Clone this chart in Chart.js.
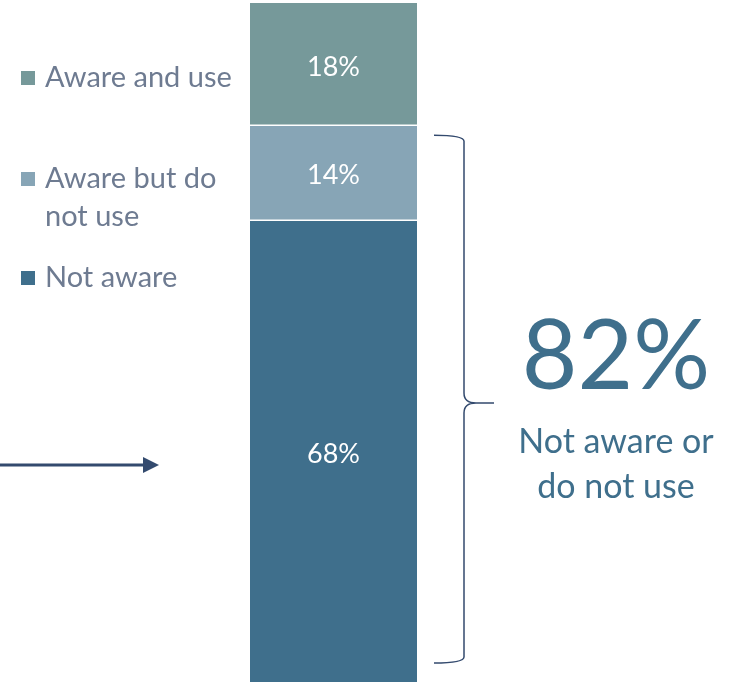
<!DOCTYPE html>
<html lang="en">
<head>
  <meta charset="UTF-8" />
  <title>Awareness and use</title>
  <script src="https://cdn.jsdelivr.net/npm/chart.js"></script>
  <style>
    * { margin: 0; padding: 0; box-sizing: border-box; }
    body { background: #fff; width: 730px; height: 682px; overflow: hidden; }
    canvas { display: block; }
  </style>
</head>
<body>
  <canvas id="chart" width="730" height="682"></canvas>

  <script>
    // data (stacked bottom to top)
    const categories = ["All respondents"];
    const seriesLabels = ["Not aware", "Aware but do not use", "Aware and use"];
    const seriesValues = [[68], [14], [18]];
    const seriesColors = ["#3f6f8c", "#87a5b6", "#76999a"];
    // legend order as shown, top to bottom
    const legendLines = [["Aware and use"], ["Aware but do", "not use"], ["Not aware"]];
    const calloutLines = ["Not aware or", "do not use"];

    const FONT = "Lato, 'Open Sans', sans-serif";
    const INK = "#334a6e";

    const notUse = seriesValues[0][0] + seriesValues[1][0];

    const overlay = {
      id: 'overlay',
      afterDatasetsDraw(chart) {
        const ctx = chart.ctx;
        const y = chart.scales.y;

        // value labels inside segments
        ctx.save();
        ctx.fillStyle = '#ffffff';
        ctx.font = '27px ' + FONT;
        ctx.textAlign = 'center';
        ctx.textBaseline = 'middle';
        chart.data.datasets.forEach((ds, i) => {
          const bar = chart.getDatasetMeta(i).data[0];
          const cy = (bar.y + bar.base) / 2;
          ctx.fillText(ds.data[0] + '%', bar.x, cy + 3);
        });
        ctx.restore();

        // legend (top to bottom = reversed stack order)
        ctx.save();
        ctx.font = '29px ' + FONT;
        ctx.textBaseline = 'middle';
        const legendY = [78, 179, 278];
        const order = [2, 1, 0];
        order.forEach((di, k) => {
          ctx.fillStyle = seriesColors[di];
          ctx.fillRect(21, legendY[k] - 7, 14, 14);
          ctx.fillStyle = '#6e7b91';
          legendLines[k].forEach((line, j) => {
            ctx.fillText(line, 45, legendY[k] + j * 38);
          });
        });
        ctx.restore();

        // arrow pointing at the bar
        ctx.save();
        ctx.strokeStyle = INK;
        ctx.fillStyle = INK;
        ctx.lineWidth = 3;
        const ay = 465;
        ctx.beginPath();
        ctx.moveTo(0, ay);
        ctx.lineTo(146, ay);
        ctx.stroke();
        ctx.beginPath();
        ctx.moveTo(143, ay - 8);
        ctx.lineTo(159, ay);
        ctx.lineTo(143, ay + 8);
        ctx.closePath();
        ctx.fill();
        ctx.restore();

        // curly brace around the "not aware or do not use" share
        const top = y.getPixelForValue(notUse) + 10;
        const bot = 663;
        const mid = (top + bot) / 2 + 4;
        const x0 = 434, x1 = 464, xt = 494;
        ctx.save();
        ctx.strokeStyle = INK;
        ctx.lineWidth = 1.5;
        ctx.beginPath();
        ctx.moveTo(x0, top);
        ctx.quadraticCurveTo(x1, top, x1, top + 6);
        ctx.lineTo(x1, mid - 10);
        ctx.quadraticCurveTo(x1, mid, xt - 18, mid);
        ctx.lineTo(xt, mid);
        ctx.moveTo(xt - 18, mid);
        ctx.quadraticCurveTo(x1, mid, x1, mid + 10);
        ctx.lineTo(x1, bot - 6);
        ctx.quadraticCurveTo(x1, bot, x0, bot);
        ctx.stroke();
        ctx.restore();

        // callout
        ctx.save();
        ctx.fillStyle = seriesColors[0];
        ctx.textAlign = 'center';
        ctx.textBaseline = 'alphabetic';
        ctx.font = '96px ' + FONT;
        ctx.fillText(notUse + '%', 616, 389);
        ctx.font = '34px ' + FONT;
        ctx.fillText(calloutLines[0], 616, 453);
        ctx.fillText(calloutLines[1], 616, 498);
        ctx.restore();
      }
    };

    new Chart(document.getElementById('chart'), {
      type: 'bar',
      data: {
        labels: categories,
        datasets: seriesLabels.map((label, i) => ({
          label: label,
          data: seriesValues[i],
          backgroundColor: seriesColors[i],
          borderColor: '#ffffff',
          borderWidth: i === 0 ? { top: 1 } : (i === 1 ? { top: 1, bottom: 1 } : { bottom: 1 }),
          borderSkipped: false,
          barPercentage: 1,
          categoryPercentage: 1
        }))
      },
      options: {
        responsive: false,
        animation: false,
        layout: { padding: { left: 250, right: 313, top: 3, bottom: 0 } },
        plugins: {
          legend: { display: false },
          tooltip: { enabled: false }
        },
        scales: {
          x: { stacked: true, display: false },
          y: { stacked: true, display: false, min: 0, max: 100 }
        }
      },
      plugins: [overlay]
    });
  </script>
</body>
</html>
